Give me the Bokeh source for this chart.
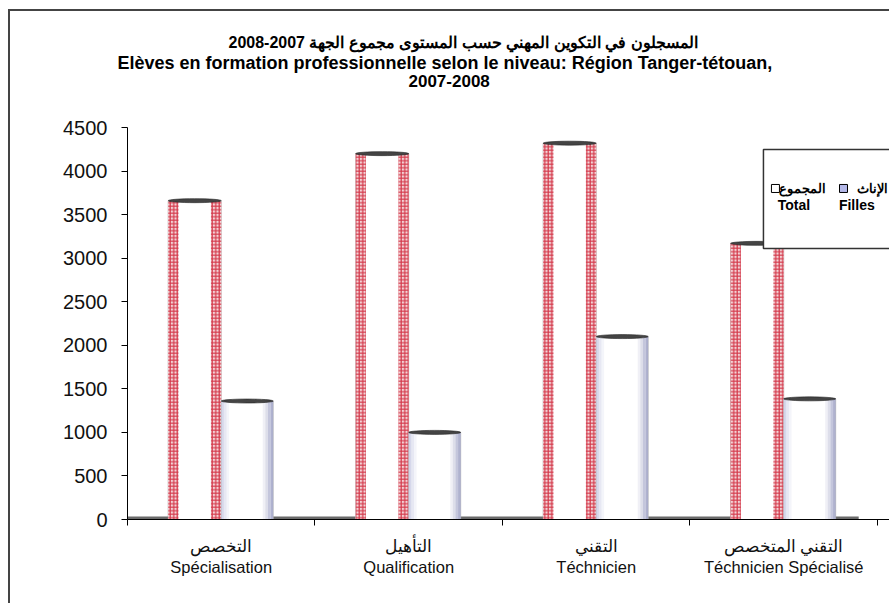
import numpy as np
from bokeh.plotting import figure
from bokeh.models import Range1d, FixedTicker, Title
from bokeh.core.properties import value
from bokeh.embed import file_html
from bokeh.resources import INLINE

# ---------------- data ----------------
categories_ar = ["التخصص", "التأهيل", "التقني", "التقني المتخصص"]
categories_fr = ["Spécialisation", "Qualification", "Téchnicien", "Téchnicien Spécialisé"]
total = [3660, 4200, 4320, 3170]
filles = [1360, 1000, 2100, 1385]
y_ticks = [0, 500, 1000, 1500, 2000, 2500, 3000, 3500, 4000, 4500]
series_ar = ["المجموع", "الإناث"]
series_fr = ["Total", "Filles"]
title_ar = "المسجلون في التكوين المهني حسب المستوى  مجموع الجهة 2007-2008"
title_fr = "Elèves en formation professionnelle selon le niveau: Région Tanger-tétouan,"
title_yr = "2007-2008"

# ---------------- style ----------------
FONT = "Liberation Sans"
BAR_W = 0.283
STRIP = 0.055
n = len(categories_fr)
xc = np.arange(n) + 0.5
tot = np.array(total, dtype=float)
fil = np.array(filles, dtype=float)

p = figure(width=881, height=594, x_range=Range1d(0, 4.075), y_range=Range1d(0, 4500),
           output_backend="svg", toolbar_location=None, title=None,
           min_border_left=117, min_border_right=0, min_border_bottom=86, min_border_top=116)
p.styles = {"border-left": "2px solid #444", "border-top": "2px solid #444",
            "margin-left": "8px", "margin-top": "9px"}
p.outline_line_color = None
p.xgrid.visible = False
p.ygrid.visible = False
p.background_fill_color = "white"
p.border_fill_color = "white"

# titles (added inner first): spacer, then three lines
p.add_layout(Title(text=" ", standoff=23, text_font_size="14px"), "above")
for txt, off, fs, lh in [(title_yr, 281, "17px", 1.0), (title_fr, -10, "18px", 0.8), (title_ar, 101, "16px", 1.0)]:
    p.add_layout(Title(text=txt, align="left", offset=off, standoff=0, text_line_height=lh,
                       text_font=FONT, text_font_size=fs, text_font_style="bold",
                       text_color="black"), "above")

# y axis
p.yaxis.ticker = FixedTicker(ticks=y_ticks)
p.yaxis.major_tick_out = 6
p.yaxis.major_tick_in = 0
p.yaxis.minor_tick_out = 0
p.yaxis.minor_tick_in = 0
p.yaxis.axis_line_color = "black"
p.yaxis.major_tick_line_color = "black"
p.yaxis.major_label_text_font = FONT
p.yaxis.major_label_text_font_size = "20px"
p.yaxis.major_label_text_color = "#111"
p.yaxis.major_label_standoff = 14

# x axis
p.xaxis.ticker = FixedTicker(ticks=list(xc), minor_ticks=list(np.arange(n + 1)))
p.xaxis.major_label_overrides = {float(x): f"{a}\n{f}" for x, a, f in zip(xc, categories_ar, categories_fr)}
p.xaxis.major_tick_out = 0
p.xaxis.major_tick_in = 0
p.xaxis.minor_tick_out = 6
p.xaxis.minor_tick_in = 0
p.xaxis.minor_tick_line_color = "black"
p.xaxis.axis_line_color = "black"
p.xaxis.major_label_text_font = FONT
p.xaxis.major_label_text_font_size = "16.5px"
p.xaxis.major_label_text_color = "#111"
p.xaxis.major_label_standoff = 11

# floor
p.quad(left=0, right=n - 0.1, bottom=0, top=35, fill_color="#6a6a6a", line_color=None)

# Total bars (red checkered cylinders)
tl = xc - BAR_W
tr = xc
p.quad(left=tl, right=tr, bottom=0, top=tot, fill_color="white", line_color="#999", line_width=0.6)
for l, r in [(tl, tl + STRIP), (tr - STRIP, tr)]:
    p.quad(left=l, right=r, bottom=0, top=tot, fill_color="#f3d3d6", line_color=None,
           hatch_pattern="cross", hatch_color="#d4384a", hatch_scale=3.5, hatch_weight=1.2)
p.ellipse(x=xc - BAR_W / 2, y=tot, width=BAR_W, height=4, height_units="screen",
          fill_color="#444", line_color="#222", line_width=0.6)

# Filles bars (lavender shaded cylinders)
fl = xc
fr = xc + BAR_W * 0.98
p.quad(left=fl, right=fr, bottom=0, top=fil, fill_color="white", line_color="#aaa", line_width=0.6)
for k, a in enumerate([0.55, 0.32, 0.14]):
    p.quad(left=fl + k * 0.014, right=fl + (k + 1) * 0.014, bottom=0, top=fil,
           fill_color="#b4b8da", fill_alpha=a, line_color=None)
for k, a in enumerate([0.75, 0.55, 0.32, 0.14]):
    p.quad(left=fr - (k + 1) * 0.014, right=fr - k * 0.014, bottom=0, top=fil,
           fill_color="#9498bf", fill_alpha=a, line_color=None)
p.ellipse(x=xc + BAR_W * 0.49, y=fil, width=BAR_W * 0.98, height=4, height_units="screen",
          fill_color="#444", line_color="#222", line_width=0.6)

# legend (manual, box partly outside the view like the reference)
LG_L, LG_R, LG_B, LG_T = 3.392, 4.3, 3111, 4247
p.quad(left=LG_L, right=LG_R, bottom=LG_B, top=LG_T, fill_color="white",
       line_color="#333", line_width=1.5)
mk_x = [3.456, 3.819]
lab_ar_x = [3.60, 3.975]
lab_fr_x = [3.555, 3.89]
row1_y, row2_y = 3800, 3605
p.scatter(x=mk_x, y=[row1_y] * 2, marker="square", size=8,
          fill_color=["white", "#b4b8e8"], line_color="black", line_width=1)
p.text(x=lab_ar_x, y=[row1_y] * 2, text=series_ar, text_font=value(FONT), text_font_size="13px",
       text_font_style="bold", text_align="center", text_baseline="middle", text_color="black")
p.text(x=lab_fr_x, y=[row2_y] * 2, text=series_fr, text_font=value(FONT), text_font_size="14px",
       text_font_style="bold", text_align="center", text_baseline="middle", text_color="black")

open("out.html", "w").write(file_html(p, INLINE))
